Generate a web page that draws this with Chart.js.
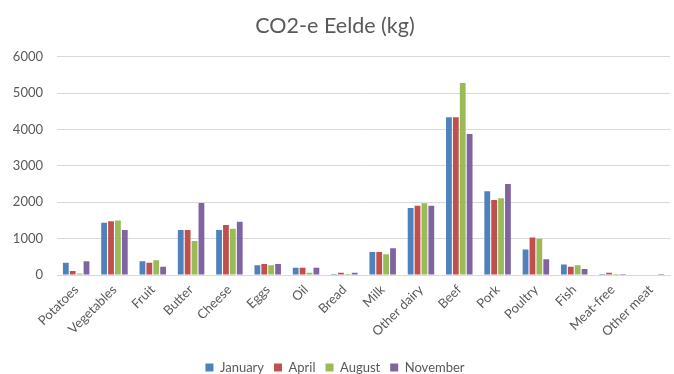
<!DOCTYPE html>
<html>
<head>
<meta charset="utf-8">
<script src="https://cdn.jsdelivr.net/npm/chart.js@4/dist/chart.umd.min.js"></script>
<style>
  html, body { margin: 0; padding: 0; background: #fff; }
  #wrap { width: 674px; height: 374px; }
</style>
</head>
<body>
<div id="wrap"><canvas id="c" width="674" height="374"></canvas></div>
<script>
// Food categories along the x axis
const categories = ['Potatoes', 'Vegetables', 'Fruit', 'Butter', 'Cheese', 'Eggs', 'Oil', 'Bread',
  'Milk', 'Other dairy', 'Beef', 'Pork', 'Poultry', 'Fish', 'Meat-free', 'Other meat'];

// CO2-equivalent per month (kg)
const january  = [340, 1440, 375, 1240, 1240, 270, 200, 30, 630, 1840, 4340, 2300, 700, 290, 30, 0];
const april    = [110, 1475, 340, 1240, 1375, 300, 200, 65, 630, 1905, 4340, 2060, 1030, 230, 65, 0];
const august   = [40, 1500, 405, 935, 1275, 270, 65, 30, 570, 1970, 5280, 2110, 1000, 265, 30, 0];
const november = [375, 1235, 230, 1980, 1465, 300, 200, 65, 735, 1905, 3875, 2500, 430, 165, 30, 30];

const yTicks = [0, 1000, 2000, 3000, 4000, 5000, 6000];

const seriesNames = ['January', 'April', 'August', 'November'];
const seriesData = [january, april, august, november];
const seriesColors = ['#4F81BD', '#C0504D', '#9BBB59', '#8064A2'];

const textColor = '#595959';
const fontFamily = 'Lato, "Open Sans", sans-serif';

new Chart(document.getElementById('c'), {
  type: 'bar',
  data: {
    labels: categories,
    datasets: seriesNames.map((name, i) => ({
      label: name,
      data: seriesData[i],
      backgroundColor: seriesColors[i],
      borderWidth: 0,
      categoryPercentage: 0.72,
      barPercentage: 0.84
    }))
  },
  options: {
    responsive: false,
    animation: false,
    layout: { padding: { left: 0, right: 4, top: 0, bottom: -10 } },
    plugins: {
      title: {
        display: true,
        text: 'CO2-e Eelde (kg)',
        color: textColor,
        font: { family: fontFamily, size: 21.5, weight: 'normal' },
        padding: { top: 13, bottom: 18 }
      },
      legend: {
        position: 'bottom',
        labels: {
          color: textColor,
          font: { family: fontFamily, size: 13 },
          boxWidth: 8,
          boxHeight: 8,
          padding: 10
        }
      },
      tooltip: { enabled: false }
    },
    scales: {
      x: {
        grid: { display: false, drawTicks: false },
        border: { color: '#d9d9d9' },
        ticks: {
          color: textColor,
          font: { family: fontFamily, size: 13 },
          minRotation: 45,
          maxRotation: 45,
          autoSkip: false,
          padding: 7
        },
        afterFit: (scale) => { scale.height = 76; }
      },
      y: {
        min: 0,
        max: 6000,
        afterBuildTicks: (scale) => { scale.ticks = yTicks.map(v => ({ value: v })); },
        grid: { color: '#d9d9d9', drawTicks: false },
        border: { display: false },
        ticks: {
          color: textColor,
          font: { family: fontFamily, size: 13 },
          padding: 14,
          callback: (v) => String(v)
        },
        afterFit: (scale) => { scale.width = 57; }
      }
    }
  }
});
</script>
</body>
</html>
